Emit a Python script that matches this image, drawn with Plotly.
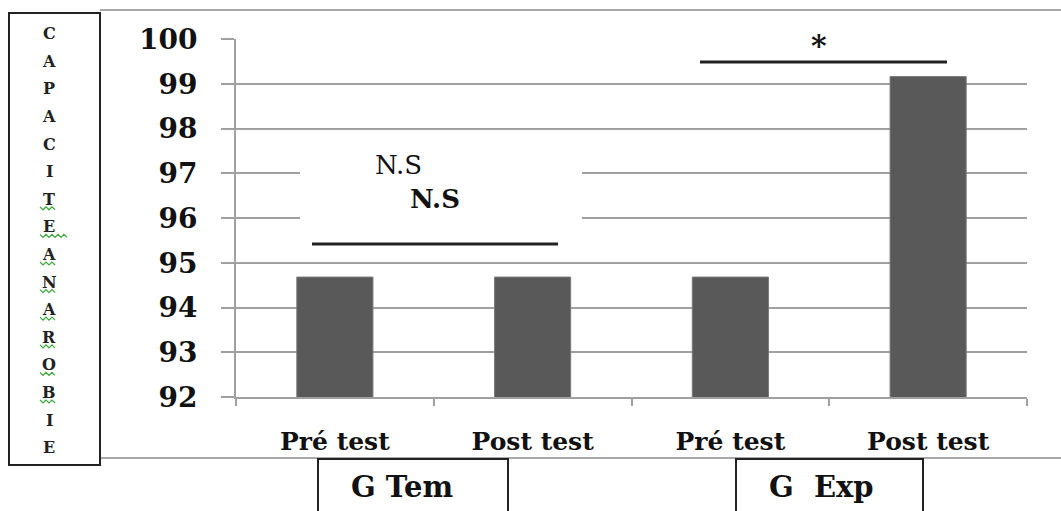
import plotly.graph_objects as go

# ---- data ----
phases = ["Pré test", "Post test", "Pré test", "Post test"]
values = [94.68, 94.68, 94.68, 99.16]
groups = ["G Tem", "G  Exp"]
y_ticks = [92, 93, 94, 95, 96, 97, 98, 99, 100]
y_title_letters = list("CAPACITEANAROBIE")
sig_labels = ["N.S", "N.S", "*"]

W, H = 1061, 511
L, R, T, B = 236, 1027, 39, 397  # plot area in pixels


def px(xp):
    return (xp - L) / (R - L)


def py(yp):
    return (B - yp) / (B - T)


GRID = "#a0a0a0"
SERIF = "DejaVu Serif"

xpos = list(range(len(values)))

fig = go.Figure()
fig.add_trace(go.Bar(
    x=xpos, y=values, width=0.385,
    marker=dict(color="#595959", line=dict(color="#7a7a7a", width=1)),
    showlegend=False, hoverinfo="y",
))

fig.update_layout(
    width=W, height=H,
    margin=dict(l=L, r=W - R, t=T, b=H - B),
    paper_bgcolor="white", plot_bgcolor="white",
    font=dict(family=SERIF, color="#111111"),
    xaxis=dict(
        range=[-0.5, len(values) - 0.5],
        tickmode="array", tickvals=xpos, ticktext=phases,
        ticks="", showgrid=False, zeroline=False,
        showline=True, linecolor=GRID, linewidth=2,
        tickfont=dict(family=SERIF, size=25, color="#111111", weight="bold"),
        ticklabelstandoff=21,
        minor=dict(tickmode="array",
                   tickvals=[i - 0.5 for i in range(len(values) + 1)],
                   ticks="outside", ticklen=7, tickcolor=GRID, tickwidth=2,
                   showgrid=False),
    ),
    yaxis=dict(
        range=[y_ticks[0], y_ticks[-1]],
        tickmode="array", tickvals=y_ticks,
        ticks="outside", ticklen=13, tickcolor=GRID, tickwidth=2,
        showgrid=True, gridcolor=GRID, gridwidth=2,
        zeroline=False, showline=True, linecolor=GRID, linewidth=2,
        tickfont=dict(family=SERIF, size=28, color="#111111", weight="bold"),
        ticklabelstandoff=18,
    ),
)

shapes = []
# white boxes hiding gridlines behind the text boxes
shapes.append(dict(type="rect", xref="paper", yref="paper",
                   x0=px(300), x1=px(582), y0=py(240), y1=py(138),
                   fillcolor="white", line=dict(width=0), layer="above"))
shapes.append(dict(type="rect", xref="paper", yref="paper",
                   x0=px(700), x1=px(983), y0=py(68), y1=py(14),
                   fillcolor="white", line=dict(width=0), layer="above"))
# significance lines
shapes.append(dict(type="line", xref="paper", yref="paper",
                   x0=px(312), x1=px(558), y0=py(244), y1=py(244),
                   line=dict(color="#222222", width=3), layer="above"))
shapes.append(dict(type="line", xref="paper", yref="paper",
                   x0=px(700), x1=px(947), y0=py(62), y1=py(62),
                   line=dict(color="#222222", width=3), layer="above"))
# outer chart border (top, bottom)
shapes.append(dict(type="line", xref="paper", yref="paper",
                   x0=px(100), x1=px(1061), y0=py(10), y1=py(10),
                   line=dict(color="#a8a8a8", width=2)))
shapes.append(dict(type="line", xref="paper", yref="paper",
                   x0=px(100), x1=px(1061), y0=py(458), y1=py(458),
                   line=dict(color="#a8a8a8", width=2)))
# left title box
shapes.append(dict(type="rect", xref="paper", yref="paper",
                   x0=px(9), x1=px(100), y0=py(465), y1=py(13),
                   fillcolor="white", line=dict(color="#222222", width=2)))
# group boxes
shapes.append(dict(type="rect", xref="paper", yref="paper",
                   x0=px(318), x1=px(508), y0=py(520), y1=py(459),
                   fillcolor="white", line=dict(color="#222222", width=2)))
shapes.append(dict(type="rect", xref="paper", yref="paper",
                   x0=px(736), x1=px(923), y0=py(520), y1=py(459),
                   fillcolor="white", line=dict(color="#222222", width=2)))

annotations = []
# vertical title letters
for i, ch in enumerate(y_title_letters):
    yc = 33.7 + i * 27.6
    annotations.append(dict(x=px(49), y=py(yc), xref="paper", yref="paper",
                            text=ch, showarrow=False,
                            font=dict(family=SERIF, size=16, color="#222222", weight="bold"),
                            xanchor="center", yanchor="middle"))
    if 6 <= i <= 13:
        x0 = 40
        x1 = 68 if ch == "E" else 57
        pts = []
        n = int((x1 - x0) / 3)
        for k in range(n + 1):
            xx = x0 + k * 3
            yy = yc + 9 + (1.5 if k % 2 else -1.5)
            pts.append(f"{px(xx):.5f},{py(yy):.5f}")
        shapes.append(dict(type="path", xref="paper", yref="paper",
                           path="M " + " L ".join(pts),
                           line=dict(color="#3aa63a", width=1.2)))

# significance labels
annotations.append(dict(x=px(398), y=py(165), xref="paper", yref="paper",
                        text=sig_labels[0], showarrow=False,
                        font=dict(family=SERIF, size=26, color="#111111"),
                        xanchor="center", yanchor="middle"))
annotations.append(dict(x=px(435), y=py(199), xref="paper", yref="paper",
                        text=sig_labels[1], showarrow=False,
                        font=dict(family=SERIF, size=26, color="#111111", weight="bold"),
                        xanchor="center", yanchor="middle"))
annotations.append(dict(x=px(819), y=py(46), xref="paper", yref="paper",
                        text=sig_labels[2], showarrow=False,
                        font=dict(family=SERIF, size=30, color="#111111", weight="bold"),
                        xanchor="center", yanchor="middle"))
# group labels
annotations.append(dict(x=px(402), y=py(487), xref="paper", yref="paper",
                        text=groups[0], showarrow=False,
                        font=dict(family=SERIF, size=29, color="#111111", weight="bold"),
                        xanchor="center", yanchor="middle"))
annotations.append(dict(x=px(821), y=py(487), xref="paper", yref="paper",
                        text=groups[1].replace("  ", "&nbsp; "), showarrow=False,
                        font=dict(family=SERIF, size=29, color="#111111", weight="bold"),
                        xanchor="center", yanchor="middle"))

fig.update_layout(shapes=shapes, annotations=annotations)
fig.write_html("out.html",
               config={"displayModeBar": False},
               post_script="document.body.style.margin='0';document.body.style.padding='0';")
